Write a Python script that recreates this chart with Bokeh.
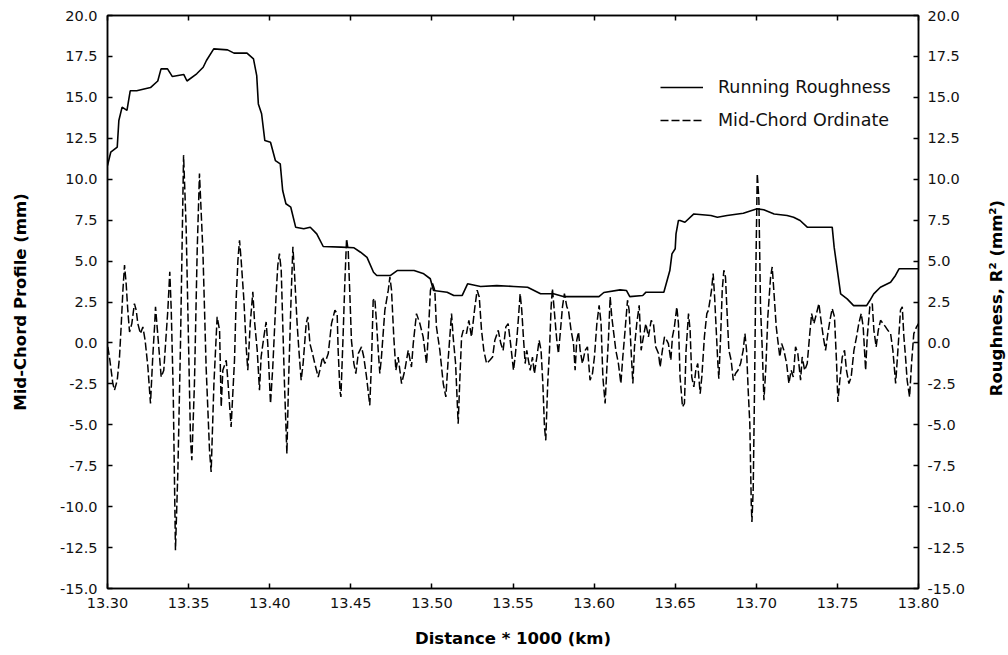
import math
from bokeh.plotting import figure
from bokeh.layouts import row
from bokeh.models import (Range1d, LinearAxis, FixedTicker, PrintfTickFormatter,
                          CustomJSTickFormatter, Legend, LegendItem)
from bokeh.core.properties import value
from bokeh.embed import file_html
from bokeh.resources import INLINE

# ---------------- data ----------------
x_ticks = [13.30, 13.35, 13.40, 13.45, 13.50, 13.55, 13.60, 13.65, 13.70, 13.75, 13.80]
y_ticks = [-15.0, -12.5, -10.0, -7.5, -5.0, -2.5, 0.0, 2.5, 5.0, 7.5, 10.0, 12.5, 15.0, 17.5, 20.0]

rough_x = [13.300, 13.302, 13.306, 13.307, 13.309, 13.312, 13.314, 13.318, 13.3265, 13.331,
           13.333, 13.337, 13.340, 13.347, 13.349, 13.355, 13.359, 13.361, 13.3655, 13.374,
           13.378, 13.386, 13.390, 13.392, 13.393, 13.395, 13.397, 13.4005, 13.4035, 13.4065,
           13.408, 13.410, 13.413, 13.416, 13.421, 13.425, 13.429, 13.433, 13.444, 13.452,
           13.456, 13.460, 13.464, 13.466, 13.4745, 13.4786, 13.489, 13.495, 13.499, 13.501,
           13.5094, 13.5135, 13.5187, 13.522, 13.530, 13.540, 13.5505, 13.559, 13.567, 13.575,
           13.581, 13.5916, 13.603, 13.606, 13.616, 13.620, 13.622, 13.630, 13.632, 13.643,
           13.6467, 13.648, 13.650, 13.6505, 13.652, 13.653, 13.656, 13.6615, 13.672, 13.676,
           13.682, 13.692, 13.7005, 13.7046, 13.711, 13.719, 13.723, 13.727, 13.7314, 13.7468,
           13.748, 13.750, 13.752, 13.756, 13.760, 13.768, 13.770, 13.7724, 13.7765, 13.7828,
           13.7858, 13.788, 13.800]
rough_y = [10.84, 11.65, 11.96, 13.59, 14.4, 14.2, 15.4, 15.4, 15.6, 16.0,
           16.74, 16.74, 16.27, 16.4, 16.0, 16.44, 16.84, 17.25, 17.96, 17.9,
           17.7, 17.7, 17.35, 16.33, 14.6, 14.0, 12.36, 12.26, 11.14, 10.94,
           9.31, 8.5, 8.29, 7.07, 6.97, 7.07, 6.66, 5.89, 5.85, 5.81,
           5.54, 5.23, 4.32, 4.12, 4.12, 4.42, 4.42, 4.22, 3.92, 3.2,
           3.10, 2.90, 2.9, 3.61, 3.45, 3.5, 3.45, 3.4, 3.0, 3.0,
           2.83, 2.83, 2.83, 3.08, 3.24, 3.2, 2.83, 2.9, 3.1, 3.1,
           4.42, 5.44, 5.75, 6.66, 7.48, 7.48, 7.37, 7.88, 7.78, 7.68,
           7.78, 7.92, 8.19, 8.13, 7.88, 7.78, 7.68, 7.48, 7.07, 7.07,
           5.85, 4.42, 3.0, 2.69, 2.28, 2.28, 2.59, 3.0, 3.4, 3.71,
           4.12, 4.53, 4.53]

mid_x_a = [13.3002, 13.3012, 13.3033, 13.3043, 13.3060, 13.3074, 13.3084, 13.3095, 13.3105, 13.3115,
           13.3125, 13.3136, 13.3150, 13.3166, 13.3177, 13.3187, 13.3203, 13.3218, 13.3232, 13.3249,
           13.3265, 13.3279, 13.3290, 13.3296, 13.3306, 13.3321, 13.3331, 13.3347, 13.3358, 13.3372,
           13.3384, 13.3393, 13.3405, 13.3419, 13.3434, 13.3450, 13.3469, 13.3485, 13.3512, 13.3520,
           13.3536, 13.3553, 13.3567, 13.3588, 13.3608, 13.3629, 13.3639, 13.3656, 13.3676, 13.3691,
           13.3701, 13.3711, 13.3732, 13.3742, 13.3762, 13.3783, 13.3793, 13.3804, 13.3814, 13.3824,
           13.3841, 13.3855, 13.3865, 13.3880, 13.3896, 13.3906, 13.3923, 13.3937, 13.3947, 13.3964,
           13.3978, 13.3988, 13.4005, 13.4019, 13.4040, 13.4050, 13.4060, 13.4071, 13.4081, 13.4091,
           13.4106, 13.4116, 13.4132, 13.4143, 13.4153, 13.4169, 13.4180, 13.4194, 13.4206, 13.4225,
           13.4235]
mid_y_a = [-0.24, -0.86, -2.48, -2.89, -2.28, -0.86, 0.98, 3.22, 4.75, 3.63,
           2.0, 0.67, 1.18, 2.40, 2.0, 1.18, 0.57, 0.98, 0.16, -1.47,
           -3.70, -0.86, 0.98, 2.20, 0.98, -0.86, -2.08, -1.67, -0.04, 2.0,
           4.34, 2.0, -2.89, -12.66, -7.78, -0.04, 11.47, 7.0, -5.95, -7.17,
           -2.5, 5.66, 10.35, 5.66, -1.47, -6.56, -7.88, -2.5, 1.59, 0.77,
           -3.91, -1.67, -1.06, -2.28, -5.13, -1.06, 2.61, 5.05, 6.27, 5.05,
           2.61, -0.24, -1.67, 1.18, 3.12, 1.38, -0.45, -2.89, -0.86, 0.37,
           1.28, -0.04, -3.70, -1.47, 3.01, 4.75, 5.46, 4.44, 0.98, -2.48,
           -6.76, -2.48, 2.81, 5.87, 4.24, 1.18, -0.45, -2.28, -1.26, 1.18,
           1.59]

mid_x_b = [13.4248, 13.4264, 13.4278, 13.4299, 13.4309, 13.4326, 13.4340, 13.4361, 13.4381, 13.4402,
           13.4416, 13.4422, 13.4433, 13.4439, 13.4453, 13.4463, 13.4474, 13.4484, 13.4494, 13.4504,
           13.4519, 13.4531, 13.4546, 13.4566, 13.4580, 13.4597, 13.4617, 13.4628, 13.4638, 13.4648,
           13.4659, 13.4669, 13.4679, 13.4689, 13.4710, 13.4731, 13.4741, 13.4751, 13.4765, 13.4778,
           13.4792, 13.4813, 13.4833, 13.4854, 13.4874, 13.4885, 13.4905, 13.4926, 13.4946, 13.4967,
           13.4977, 13.4991, 13.5004, 13.5018, 13.5028, 13.5049, 13.5070, 13.5086, 13.5100, 13.5121,
           13.5131, 13.5146, 13.5162, 13.5172, 13.5183, 13.5193, 13.5213, 13.5228, 13.5244, 13.5265,
           13.5279, 13.5292, 13.5306, 13.5320, 13.5337, 13.5357, 13.5374, 13.5388, 13.5409, 13.5425,
           13.5439, 13.5456, 13.5470, 13.5485]
mid_y_b = [-0.04, -0.65, -1.26, -2.08, -1.67, -0.86, -1.26, -0.65, 1.18, 2.0,
           1.79, -0.45, -2.89, -3.30, 0.57, 3.63, 6.37, 5.66, 3.01, 0.16,
           -1.26, -1.87, -0.65, -0.24, -0.86, -2.08, -3.81, -1.06, 2.61, 2.71,
           1.18, -0.45, -1.87, -0.86, 2.0, 3.22, 4.03, 3.22, 0.37, -1.67,
           -0.86, -2.48, -1.67, -0.45, -1.47, -0.04, 1.79, 1.18, 0.37, -1.26,
           0.37, 3.22, 3.63, 3.22, 0.98, -0.45, -2.48, -3.30, -1.06, 1.79,
           0.37, -1.26, -4.93, -2.28, 0.37, 0.77, 0.57, 1.38, 0.37, 2.2,
           3.22, 2.81, 0.77, -0.45, -1.26, -1.06, -0.86, 0.16, 0.77, -0.04,
           -0.45, 0.98, 1.18, -0.04]

mid_x_c = [13.5503, 13.5513, 13.5523, 13.5534, 13.5544, 13.5554, 13.5564, 13.5575, 13.5585, 13.5595,
           13.5606, 13.5620, 13.5632, 13.5647, 13.5661, 13.5673, 13.5684, 13.5694, 13.5702, 13.5714,
           13.5725, 13.5735, 13.5743, 13.5756, 13.5770, 13.5780, 13.5791, 13.5805, 13.5817, 13.5832,
           13.5842, 13.5858, 13.5873, 13.5883, 13.5893, 13.5904, 13.5914, 13.5928, 13.5945, 13.5959,
           13.5975, 13.5990, 13.6002, 13.6017, 13.6031, 13.6043, 13.6054, 13.6068, 13.6078, 13.6089,
           13.6099, 13.6109, 13.6119, 13.6134, 13.6150, 13.6165, 13.6177, 13.6191, 13.6206, 13.6216,
           13.6228, 13.6239, 13.6249, 13.6263, 13.6278, 13.6290, 13.6304, 13.6319, 13.6335, 13.6352,
           13.6366, 13.6380, 13.6397, 13.6407, 13.6421, 13.6434, 13.6448, 13.6458, 13.6473, 13.6483,
           13.6495, 13.6510, 13.6520, 13.6530, 13.6545, 13.6557, 13.6567, 13.6582, 13.6592, 13.6602,
           13.6615, 13.6627, 13.6639, 13.6654, 13.6664, 13.6680, 13.6695, 13.6705]
mid_y_c = [-1.67, -0.86, 0.16, 1.59, 3.01, 2.0, 0.37, -1.26, -0.45, -1.06,
           -1.67, -0.86, -1.87, -0.86, 0.16, -0.45, -2.48, -5.13, -5.95, -2.48,
           -0.45, 2.2, 3.32, 1.79, 0.16, -0.65, 0.57, 2.2, 3.01, 2.2,
           2.0, 0.77, -0.04, -1.67, 0.16, 0.67, -0.45, -1.26, -0.45, -0.24,
           -2.28, -1.87, -0.86, 1.18, 2.30, 1.18, -2.08, -3.70, -1.67, 0.37,
           2.81, 1.59, 0.77, -0.45, -1.26, -2.48, -0.86, 0.77, 2.61, 2.0,
           -0.45, -2.48, -0.24, 1.18, 2.30, -0.45, 0.37, 1.18, 0.37, 1.38,
           1.18, -0.24, -0.65, -1.47, -0.45, 0.37, 0.16, -0.04, -1.06, 0.37,
           0.98, 2.2, 1.18, -2.08, -3.91, -3.70, -0.45, 1.79, 0.77, -2.08,
           -2.69, -1.67, -1.26, -3.10, -2.08, 0.37, 1.79, 2.0]

mid_x_d = [13.6724, 13.6734, 13.6743, 13.6755, 13.6763, 13.6769, 13.6780, 13.6790, 13.6800, 13.6810,
           13.6821, 13.6831, 13.6845, 13.6858, 13.6872, 13.6887, 13.6903, 13.6919, 13.6930, 13.6940,
           13.6950, 13.6960, 13.6969, 13.6973, 13.6981, 13.6989, 13.6997, 13.7006, 13.7016, 13.7026,
           13.7037, 13.7047, 13.7059, 13.7071, 13.7088, 13.7098, 13.7108, 13.7123, 13.7135, 13.7145,
           13.7156, 13.7170, 13.7187, 13.7201, 13.7215, 13.7228, 13.7242, 13.7256, 13.7273, 13.7283,
           13.7298, 13.7314, 13.7328, 13.7341, 13.7355, 13.7371, 13.7386, 13.7396, 13.7413, 13.7427,
           13.7441, 13.7454, 13.7468, 13.7482, 13.7495, 13.7503, 13.7515, 13.7530, 13.7544, 13.7556,
           13.7571, 13.7585, 13.7602, 13.7618, 13.7632, 13.7647, 13.7659, 13.7674, 13.7684, 13.7700,
           13.7715, 13.7725, 13.7739, 13.7752, 13.7766, 13.7782, 13.7797, 13.7811, 13.7828, 13.7842,
           13.7859, 13.7873, 13.7889, 13.7900, 13.7910, 13.7920, 13.7930, 13.7945, 13.7957, 13.7971,
           13.7988, 13.8000]
mid_y_d = [3.22, 4.24, 2.81, 0.37, -1.26, -2.18, 0.37, 3.22, 4.44, 4.03,
           1.59, -0.45, -1.06, -2.28, -1.87, -1.67, -1.26, -0.45, 0.57, -0.45,
           -2.89, -4.93, -9.82, -10.94, -8.9, -2.89, 4.24, 10.35, 8.72, 2.2,
           -0.45, -3.5, -1.47, 1.59, 4.03, 4.64, 3.22, 0.98, -0.04, -0.86,
           -0.04, -0.45, -1.26, -2.48, -1.67, -2.08, -0.24, -0.65, -2.28, -0.86,
           -1.67, -1.26, 0.37, 1.79, 1.18, 1.79, 2.40, 1.59, 0.37, -0.45,
           0.57, 1.38, 2.10, 1.59, -1.26, -3.60, -2.28, -0.86, -0.45, -1.67,
           -2.48, -2.08, -0.45, 0.37, 1.18, 1.79, 0.98, -1.67, 0.37, 2.2,
           2.40, 0.77, -0.24, 0.77, 1.38, 1.18, 0.98, 0.77, 0.57, -0.45,
           -2.48, -0.45, 2.0, 2.2, 0.37, -0.86, -2.28, -3.30, -1.26, 0.57,
           0.98, 1.18]

mid_x = mid_x_a + mid_x_b + mid_x_c + mid_x_d
mid_y = mid_y_a + mid_y_b + mid_y_c + mid_y_d

right_title = "Roughness, R² (mm²)"

# ---------------- main figure ----------------
FONT = "DejaVu Sans"

p = figure(width=975, height=655, output_backend="svg", toolbar_location=None,
           x_range=Range1d(13.30, 13.80), y_range=Range1d(-15, 20),
           min_border_left=107, min_border_right=57, min_border_top=15, min_border_bottom=67)
p.xgrid.visible = False
p.ygrid.visible = False
p.outline_line_color = "black"
p.outline_line_width = 1.5
p.background_fill_color = "white"
p.border_fill_color = "white"
p.extra_y_ranges = {"r": Range1d(-15, 20)}


def style(ax, ticks, fmt):
    ax.ticker = FixedTicker(ticks=ticks)
    ax.formatter = PrintfTickFormatter(format=fmt)
    ax.major_tick_in = 5
    ax.major_tick_out = 0
    ax.minor_tick_line_color = None
    ax.axis_line_width = 1.5
    ax.axis_line_color = "black"
    ax.major_tick_line_width = 1.5
    ax.major_tick_line_color = "black"
    ax.major_label_text_font = FONT
    ax.major_label_text_font_size = "14.5px"
    ax.major_label_text_color = "#111111"
    ax.axis_label_text_font = FONT
    ax.axis_label_text_font_size = "16.5px"
    ax.axis_label_text_font_style = "bold"
    ax.axis_label_text_color = "#000000"


xa = p.xaxis[0]
style(xa, x_ticks, "%.2f")
xa.axis_label = "Distance * 1000 (km)"
xa.major_label_standoff = 9
xa.axis_label_standoff = 18

ya = p.yaxis[0]
style(ya, y_ticks, "%.1f")
ya.axis_label = "Mid-Chord Profile (mm)"
ya.major_label_standoff = 10
ya.axis_label_standoff = 27

ra = LinearAxis(y_range_name="r")
style(ra, y_ticks, "%.1f")
ra.major_label_standoff = 9
p.add_layout(ra, "right")

ta = LinearAxis()
style(ta, x_ticks, "%.2f")
ta.formatter = CustomJSTickFormatter(code="return ''")
ta.major_label_text_font_size = "1px"
ta.major_label_standoff = 0
p.add_layout(ta, "above")

r_mid = p.line(mid_x, mid_y, line_color="black", line_width=1.5, line_dash="8 3")
r_rough = p.line(rough_x, rough_y, line_color="black", line_width=1.6)

legend = Legend(items=[LegendItem(label="Running Roughness", renderers=[r_rough]),
                       LegendItem(label="Mid-Chord Ordinate", renderers=[r_mid])],
                location=(553, 458), border_line_color=None, background_fill_alpha=0,
                padding=0, margin=0, glyph_width=43, glyph_height=20, label_height=20,
                spacing=13, label_standoff=15, label_text_font=FONT,
                label_text_font_size="17.5px", label_text_color="#111111")
p.add_layout(legend)

# ---------------- narrow strip holding the right-hand axis title ----------------
p2 = figure(width=33, height=655, output_backend="svg", toolbar_location=None,
            x_range=Range1d(-21, 12), y_range=Range1d(-332, 323),
            min_border=0)
p2.axis.visible = False
p2.grid.visible = False
p2.outline_line_color = None
p2.background_fill_color = "white"
p2.border_fill_color = "white"
p2.text(x=[0], y=[0], text=[right_title], angle=math.pi / 2,
        text_align="center", text_baseline="middle",
        text_font=value(FONT), text_font_size=value("16.5px"),
        text_font_style=value("bold"), text_color="#000000")

layout = row(p, p2, spacing=0)

open("out.html", "w").write(file_html(layout, INLINE))
